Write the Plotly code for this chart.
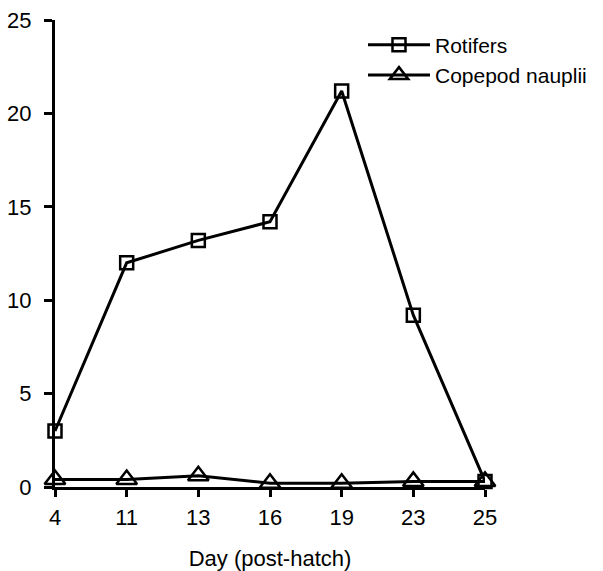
import plotly.graph_objects as go

days = ["4", "11", "13", "16", "19", "23", "25"]
rotifers = [3.0, 12.0, 13.2, 14.2, 21.2, 9.2, 0.3]
copepod_nauplii = [0.4, 0.4, 0.6, 0.2, 0.2, 0.3, 0.3]
y_ticks = [0, 5, 10, 15, 20, 25]

xpos = list(range(len(days)))
FONT = "Liberation Sans, Arial, sans-serif"

fig = go.Figure()
fig.add_trace(go.Scatter(
    x=xpos, y=rotifers, name="Rotifers", mode="lines+markers",
    line=dict(color="black", width=3),
    marker=dict(symbol="square-open", size=13, color="black", line=dict(width=2.5)),
    cliponaxis=False,
))
fig.add_trace(go.Scatter(
    x=xpos, y=copepod_nauplii, name="Copepod nauplii", mode="lines+markers",
    line=dict(color="black", width=3),
    marker=dict(symbol="triangle-up-open", size=18, color="black", line=dict(width=2.5)),
    cliponaxis=False,
))

fig.update_layout(
    width=603, height=571,
    margin=dict(l=55, r=117, t=20, b=84),
    plot_bgcolor="white", paper_bgcolor="white",
    font=dict(family=FONT, color="black", size=20),
    showlegend=True,
    legend=dict(x=0.7146, y=0.99, xanchor="left", yanchor="top",
                font=dict(size=21, family=FONT), bgcolor="rgba(0,0,0,0)",
                itemwidth=62),
    xaxis=dict(
        range=[0, 6], tickmode="array", tickvals=xpos, ticktext=days,
        showline=True, linecolor="black", linewidth=3, ticks="outside",
        tickwidth=3, ticklen=7, tickcolor="black", showgrid=False, zeroline=False,
        tickfont=dict(size=22), ticklabelstandoff=2, automargin=False,
        title=dict(text="Day (post-hatch)", font=dict(size=22), standoff=22),
    ),
    yaxis=dict(
        range=[0, 25], tickmode="array", tickvals=y_ticks,
        showline=True, linecolor="black", linewidth=3, ticks="outside",
        tickwidth=3, ticklen=8, tickcolor="black", showgrid=False, zeroline=False,
        tickfont=dict(size=22), ticklabelstandoff=8, automargin=False,
    ),
)

fig.write_html("out.html", config={"displayModeBar": False},
               post_script="document.body.style.margin='0';")
